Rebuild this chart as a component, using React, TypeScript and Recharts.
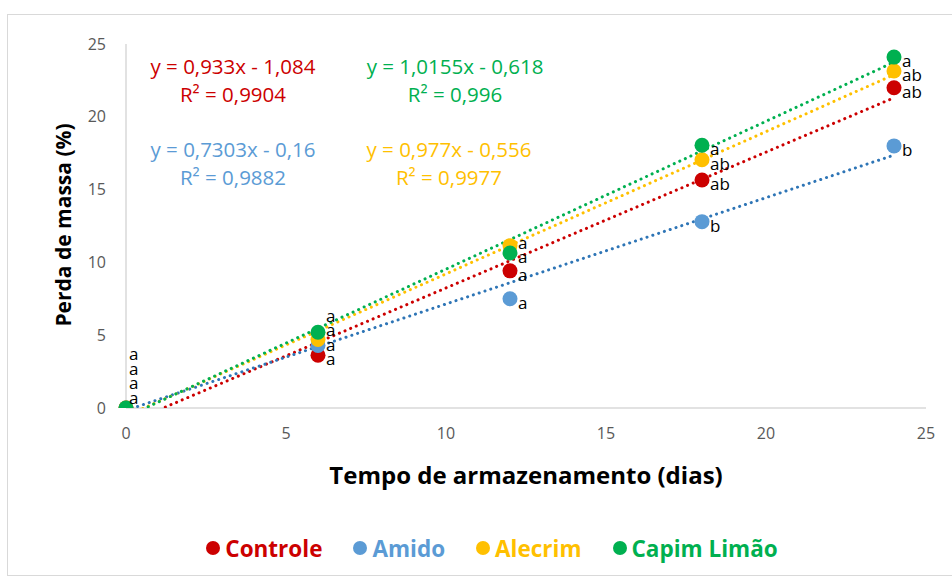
import { ScatterChart, Scatter, XAxis, YAxis } from 'recharts';

const days = [0, 6, 12, 18, 24];

const seriesNames = ['Controle', 'Amido', 'Alecrim', 'Capim Limão'];
const controle = [0, 3.62, 9.42, 15.66, 22.0];
const amido = [0, 4.3, 7.5, 12.8, 18.0];
const alecrim = [0, 4.7, 11.15, 17.05, 23.15];
const capimLimao = [0, 5.2, 10.65, 18.05, 24.1];

const controleLetters = ['a', 'a', 'a', 'ab', 'ab'];
const amidoLetters = ['a', 'a', 'a', 'b', 'b'];
const alecrimLetters = ['a', 'a', 'a', 'ab', 'ab'];
const capimLetters = ['a', 'a', 'a', 'a', 'a'];

// trendline equations shown on the chart
const slopes = [0.933, 0.7303, 0.977, 1.0155];
const intercepts = [-1.084, -0.16, -0.556, -0.618];
const equations = ['y = 0,933x - 1,084', 'y = 0,7303x - 0,16', 'y = 0,977x - 0,556', 'y = 1,0155x - 0,618'];
const r2 = ['R² = 0,9904', 'R² = 0,9882', 'R² = 0,9977', 'R² = 0,996'];

const xTicks = [0, 5, 10, 15, 20, 25];
const yTicks = [0, 5, 10, 15, 20, 25];

const colors = ['#CC0000', '#5B9BD5', '#FFC000', '#00B050'];
const trendColors = ['#CC0000', '#2E75B6', '#FFC000', '#00B050'];

const FONT = '"Open Sans", Calibri, sans-serif';

const allValues = [controle, amido, alecrim, capimLimao];
const allLetters = [controleLetters, amidoLetters, alecrimLetters, capimLetters];

const pointData = allValues.map((vals) => vals.map((v, i) => ({ x: days[i], y: v })));

const trendData = slopes.map((m, k) => [
  { x: days[0], y: m * days[0] + intercepts[k] },
  { x: days[days.length - 1], y: m * days[days.length - 1] + intercepts[k] },
]);

// letter labels: pushed apart so they do not overlap (gap in y units)
const GAP = 1.0;
const labelData: { x: number; y: number; text: string; first: boolean }[][] = allValues.map(() => []);
days.forEach((d, i) => {
  const entries = allValues.map((vals, k) => ({ k, v: vals[i] }));
  if (d === 0) {
    entries.forEach((e, rank) => {
      labelData[e.k].push({ x: d, y: 0.74 + GAP * rank, text: allLetters[e.k][i], first: true });
    });
    return;
  }
  entries.sort((a, b) => a.v - b.v);
  let prev = -Infinity;
  entries.forEach((e) => {
    const ly = Math.max(e.v - 0.25, prev + GAP);
    prev = ly;
    labelData[e.k].push({ x: d, y: ly, text: allLetters[e.k][i], first: false });
  });
});

const tick = { fill: '#595959', fontSize: 16, fontFamily: FONT };

const Dot = (color: string) => (props: any) => (
  <circle cx={props.cx} cy={props.cy} r={7.5} fill={color} />
);

const LetterShape = (props: any) => (
  <text
    x={props.cx + (props.payload.first ? 3 : 8)}
    y={props.cy}
    dominantBaseline="central"
    fontSize={17}
    fontFamily={FONT}
    fill="#000"
  >
    {props.payload.text}
  </text>
);

const Empty = () => <g />;

const eqPos = [
  { left: 233, top: 52 },
  { left: 233, top: 135 },
  { left: 449, top: 135 },
  { left: 455, top: 52 },
];

export default function App() {
  return (
    <div style={{ position: 'absolute', left: 0, top: 0, width: 952, height: 580, background: '#fff', fontFamily: FONT }}>
      <div
        style={{
          position: 'absolute',
          left: 7,
          top: 14,
          width: 960,
          height: 562,
          border: '1px solid #d9d9d9',
          boxSizing: 'border-box',
        }}
      />
      <div style={{ position: 'absolute', left: 0, top: 0 }}>
        <ScatterChart width={952} height={580} margin={{ top: 44, right: 26, left: 66, bottom: 132 }}>
          <XAxis
            type="number"
            dataKey="x"
            domain={[0, 25]}
            ticks={xTicks}
            height={40}
            tick={tick}
            tickLine={false}
            tickSize={0}
            tickMargin={20}
            axisLine={{ stroke: '#d9d9d9', strokeWidth: 1.5 }}
          />
          <YAxis
            type="number"
            dataKey="y"
            domain={[0, 25]}
            ticks={yTicks}
            allowDataOverflow
            width={60}
            tick={tick}
            tickLine={false}
            tickSize={0}
            tickMargin={20}
            axisLine={{ stroke: '#d9d9d9', strokeWidth: 1.5 }}
          />
          {trendData.map((d, k) => (
            <Scatter
              key={'t' + k}
              data={d}
              isAnimationActive={false}
              shape={Empty}
              line={{ stroke: trendColors[k], strokeWidth: 3, strokeDasharray: '0.1 6', strokeLinecap: 'round' }}
            />
          ))}
          {pointData.map((d, k) => (
            <Scatter key={'p' + k} name={seriesNames[k]} data={d} isAnimationActive={false} shape={Dot(colors[k])} />
          ))}
          {labelData.map((d, k) => (
            <Scatter key={'l' + k} data={d} isAnimationActive={false} shape={LetterShape} />
          ))}
        </ScatterChart>
      </div>

      {equations.map((eq, k) => (
        <div
          key={'e' + k}
          style={{
            position: 'absolute',
            left: eqPos[k].left - 130,
            top: eqPos[k].top,
            width: 260,
            textAlign: 'center',
            color: colors[k],
            fontSize: 20.5,
            lineHeight: '28px',
            whiteSpace: 'nowrap',
          }}
        >
          <div>{eq}</div>
          <div>{r2[k]}</div>
        </div>
      ))}

      <div
        style={{
          position: 'absolute',
          left: 63 - 150,
          top: 225 - 15,
          width: 300,
          height: 30,
          lineHeight: '30px',
          textAlign: 'center',
          transform: 'rotate(-90deg)',
          fontWeight: 700,
          fontSize: 21,
          color: '#000',
        }}
      >
        Perda de massa (%)
      </div>
      <div
        style={{
          position: 'absolute',
          left: 526 - 250,
          top: 475 - 17,
          width: 500,
          height: 34,
          lineHeight: '34px',
          textAlign: 'center',
          fontWeight: 700,
          fontSize: 24,
          color: '#000',
        }}
      >
        Tempo de armazenamento (dias)
      </div>

      <div
        style={{
          position: 'absolute',
          left: 0,
          top: 532,
          width: 984,
          height: 32,
          display: 'flex',
          justifyContent: 'center',
          alignItems: 'center',
          gap: 31,
        }}
      >
        {seriesNames.map((n, k) => (
          <div key={n} style={{ display: 'flex', alignItems: 'center', gap: 5 }}>
            <span style={{ width: 14, height: 14, borderRadius: 7, background: colors[k], display: 'inline-block' }} />
            <span style={{ color: colors[k], fontWeight: 700, fontSize: 22.5 }}>{n}</span>
          </div>
        ))}
      </div>
    </div>
  );
}
